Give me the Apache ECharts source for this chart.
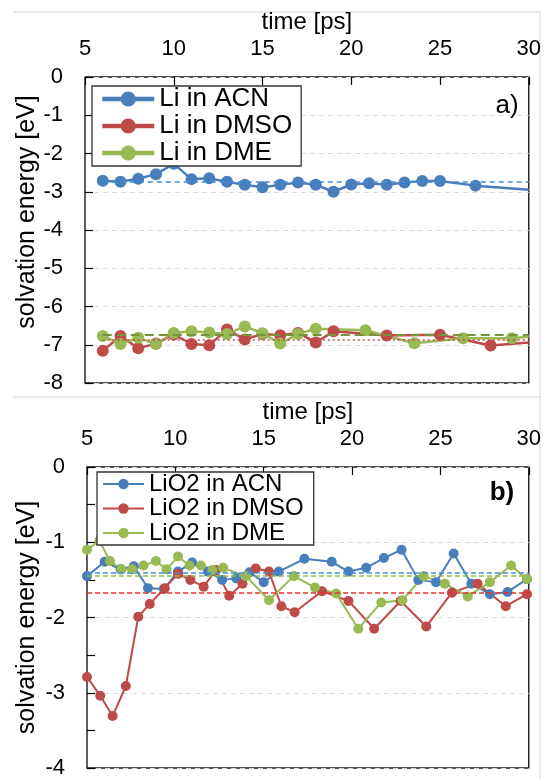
<!DOCTYPE html>
<html>
<head>
<meta charset="utf-8">
<script src="https://cdn.jsdelivr.net/npm/echarts@6/dist/echarts.min.js"></script>
<style>
  html, body { margin: 0; padding: 0; background: #fff; }
  #chart { width: 544px; height: 779px; }
</style>
</head>
<body>
<div id="chart"></div>
<script>
// panel a: Li+ solvation energy vs time
const liAcnT = [6, 7, 8, 9, 10, 11, 12, 13, 14, 15, 16, 17, 18, 19, 20, 21, 22, 23, 24, 25, 27, 30]
const liAcnE = [-2.71, -2.74, -2.66, -2.54, -2.27, -2.67, -2.65, -2.74, -2.82, -2.88, -2.82, -2.76, -2.82, -3.00, -2.81, -2.78, -2.82, -2.76, -2.72, -2.72, -2.84, -2.95]
const liDmsoT = [6, 7, 8, 9, 10, 11, 12, 13, 14, 15, 16, 17, 18, 19, 22, 25, 27.85, 30]
const liDmsoE = [-7.16, -6.77, -7.09, -6.97, -6.73, -6.98, -7.01, -6.60, -6.86, -6.72, -6.75, -6.69, -6.94, -6.65, -6.76, -6.74, -7.02, -6.94]
const liDmeT = [6, 7, 8, 9, 10, 11, 12, 13, 14, 15, 16, 17, 18, 20.8, 23.55, 26.3, 29.05, 30]
const liDmeE = [-6.77, -6.98, -6.82, -6.98, -6.69, -6.65, -6.68, -6.72, -6.52, -6.70, -6.97, -6.72, -6.58, -6.62, -6.96, -6.83, -6.83, -6.79]
const liAvg = [-2.745, -6.86, -6.75] // ACN, DMSO, DME

// panel b: LiO2 solvation energy vs time
const lio2AcnT = [5, 6.0, 6.9, 7.65, 8.45, 9.35, 10.15, 10.95, 11.85, 12.65, 13.45, 14.2, 15.0, 15.85, 17.3, 18.85, 19.8, 20.8, 21.8, 22.8, 23.75, 24.75, 25.75, 26.75, 27.8, 28.8, 29.9]
const lio2AcnE = [-1.45, -1.26, -1.36, -1.32, -1.61, -1.62, -1.39, -1.27, -1.39, -1.50, -1.48, -1.40, -1.53, -1.39, -1.22, -1.26, -1.39, -1.34, -1.21, -1.10, -1.50, -1.53, -1.15, -1.55, -1.69, -1.66, -1.49]
const lio2DmsoT = [5, 5.75, 6.45, 7.2, 7.9, 8.55, 9.4, 10.15, 10.85, 11.6, 12.3, 13.05, 13.8, 14.55, 15.3, 16.0, 16.75, 18.3, 19.8, 21.25, 22.75, 24.2, 25.65, 27.1, 28.7, 29.9]
const lio2DmsoE = [-2.79, -3.04, -3.31, -2.91, -1.99, -1.82, -1.61, -1.42, -1.50, -1.59, -1.37, -1.71, -1.55, -1.35, -1.39, -1.85, -1.93, -1.65, -1.78, -2.15, -1.78, -2.12, -1.67, -1.55, -1.85, -1.69]
const lio2DmeT = [5, 5.7, 6.3, 6.95, 7.55, 8.2, 8.9, 9.5, 10.15, 10.8, 11.45, 12.1, 12.7, 14.0, 15.3, 16.7, 17.9, 19.1, 20.35, 21.65, 22.85, 24.05, 25.25, 26.55, 27.8, 29.0, 29.9]
const lio2DmeE = [-1.10, -0.98, -1.25, -1.36, -1.36, -1.31, -1.25, -1.36, -1.19, -1.31, -1.31, -1.37, -1.34, -1.45, -1.77, -1.45, -1.60, -1.68, -2.15, -1.80, -1.77, -1.45, -1.55, -1.72, -1.53, -1.31, -1.49]
const lio2Avg = [-1.41, -1.67, -1.45]

const namesA = ["Li in ACN", "Li in DMSO", "Li in DME"]
const namesB = ["LiO2 in ACN", "LiO2 in DMSO", "LiO2 in DME"]
const xTicks = [5, 30, 5] // min, max, interval
const yRangeA = [-8, 0]
const yRangeB = [-4, 0]

const BLUE = "#4a7ebb"
const RED = "#be4b48"
const GREEN = "#98b954"
const FONT = "Liberation Sans, Arial, sans-serif"

// points that sit on the right border are drawn without a marker
const pts = (ts, es, hideEnd) =>
  ts.map((t, i) => (hideEnd && t >= 30 ? { value: [t, es[i]], symbol: "none" } : [t, es[i]]))

const avgLine = (y, x0, color, type, width) => ({
  silent: true,
  symbol: "none",
  label: { show: false },
  lineStyle: { color: color, type: type, width: width },
  data: [[{ coord: [x0, y] }, { coord: [30, y] }]],
})

const chart = echarts.init(document.getElementById("chart"))

const xAxisBase = (gridIndex) => ({
  gridIndex: gridIndex,
  type: "value",
  position: "top",
  min: xTicks[0],
  max: xTicks[1],
  interval: xTicks[2],
  name: "time [ps]",
  nameLocation: "middle",
  nameGap: 43,
  nameMoveOverlap: false,
  nameTextStyle: { fontSize: 24, color: "#000", fontFamily: FONT },
  axisLine: { show: false },
  axisTick: { show: true, inside: true, length: 8, lineStyle: { color: "#000", width: 1.2 } },
  axisLabel: { fontSize: 22, color: "#000", fontFamily: FONT, margin: 17 },
  splitLine: { show: false },
})

const yAxisBase = (gridIndex, range, shift, gap) => ({
  gridIndex: gridIndex,
  type: "value",
  min: range[0],
  max: range[1],
  interval: 1,
  name: "solvation energy [eV]",
  nameLocation: "middle",
  nameRotate: 90,
  nameGap: gap,
  nameMoveOverlap: false,
  nameTextStyle: { fontSize: 25, color: "#000", fontFamily: FONT, padding: [0, 0, 0, shift] },
  axisLine: { show: false },
  axisTick: { show: true, inside: true, length: 8, lineStyle: { color: "#000", width: 1.2 } },
  axisLabel: { fontSize: 22, color: "#000", fontFamily: FONT, margin: 22 },
  splitLine: { show: true, lineStyle: { color: "#dcdcdc", type: [5, 4], width: 1 } },
})

const option = {
  animation: false,
  backgroundColor: "#fff",
  grid: [
    { left: 85, top: 77, width: 444, height: 306, show: true, borderColor: "#1a1a1a", borderWidth: 1.4, backgroundColor: "transparent" },
    { left: 87, top: 467, width: 444, height: 305, show: true, borderColor: "#1a1a1a", borderWidth: 1.4, backgroundColor: "transparent" },
  ],
  xAxis: [xAxisBase(0), xAxisBase(1)],
  yAxis: [
    yAxisBase(0, yRangeA, 36, 45),
    Object.assign(yAxisBase(1, yRangeB, 0, 47), {
      minorTick: { show: true, splitNumber: 2, length: 8, lineStyle: { color: "#000", width: 1.2 } },
    }),
  ],
  legend: [
    {
      data: namesA,
      orient: "vertical",
      left: 92,
      top: 86,
      padding: [0, 9, 0, 8],
      itemGap: 1,
      itemWidth: 52,
      itemHeight: 19,
      backgroundColor: "#fff",
      borderColor: "#333",
      borderWidth: 1.3,
      borderRadius: 0,
      lineStyle: { width: 4.5 },
      textStyle: { fontSize: 26, color: "#000", fontFamily: FONT },
    },
    {
      data: namesB,
      orient: "vertical",
      left: 97,
      top: 472,
      padding: [0, 10, 0, 5],
      itemGap: 0.5,
      itemWidth: 41,
      itemHeight: 13,
      backgroundColor: "#fff",
      borderColor: "#333",
      borderWidth: 1.3,
      borderRadius: 0,
      lineStyle: { width: 2 },
      textStyle: { fontSize: 24, color: "#000", fontFamily: FONT },
    },
  ],
  graphic: [
    { type: "line", shape: { x1: 13, y1: 12, x2: 540, y2: 12 }, style: { stroke: "#d4d4d4", lineWidth: 1 }, silent: true },
    { type: "line", shape: { x1: 540, y1: 12, x2: 540, y2: 779 }, style: { stroke: "#d4d4d4", lineWidth: 1 }, silent: true },
    { type: "line", shape: { x1: 13, y1: 397, x2: 540, y2: 397 }, style: { stroke: "#d4d4d4", lineWidth: 1 }, silent: true },
    { type: "text", x: 507, y: 106, style: { text: "a)", fontSize: 26, fill: "#000", fontFamily: FONT, textAlign: "center", textVerticalAlign: "middle" }, z: 10 },
    { type: "text", x: 502, y: 493, style: { text: "b)", fontSize: 26, fontWeight: "bold", fill: "#000", fontFamily: FONT, textAlign: "center", textVerticalAlign: "middle" }, z: 10 },
  ],
  series: [
    {
      name: namesA[0], type: "line", xAxisIndex: 0, yAxisIndex: 0,
      data: pts(liAcnT, liAcnE, true),
      symbol: "circle", symbolSize: 12, showAllSymbol: true,
      itemStyle: { color: BLUE }, lineStyle: { color: BLUE, width: 2.5 },
      markLine: avgLine(liAvg[0], 6, "#3a8fdc", [5, 4], 1.5),
    },
    {
      name: namesA[1], type: "line", xAxisIndex: 0, yAxisIndex: 0,
      data: pts(liDmsoT, liDmsoE, true),
      symbol: "circle", symbolSize: 12, showAllSymbol: true,
      itemStyle: { color: RED }, lineStyle: { color: RED, width: 2.5 },
      markLine: avgLine(liAvg[1], 6, "#c0504d", [2, 3], 1.5),
    },
    {
      name: namesA[2], type: "line", xAxisIndex: 0, yAxisIndex: 0,
      data: pts(liDmeT, liDmeE, true),
      symbol: "circle", symbolSize: 12, showAllSymbol: true,
      itemStyle: { color: GREEN }, lineStyle: { color: GREEN, width: 2.5 },
      markLine: avgLine(liAvg[2], 6, "#77933c", [9, 5], 2),
    },
    {
      name: namesB[0], type: "line", xAxisIndex: 1, yAxisIndex: 1,
      data: pts(lio2AcnT, lio2AcnE, false),
      symbol: "circle", symbolSize: 10, showAllSymbol: true,
      itemStyle: { color: BLUE }, lineStyle: { color: BLUE, width: 2 },
      markLine: avgLine(lio2Avg[0], 5, "#4a8fdc", [5, 3], 1.5),
    },
    {
      name: namesB[1], type: "line", xAxisIndex: 1, yAxisIndex: 1,
      data: pts(lio2DmsoT, lio2DmsoE, false),
      symbol: "circle", symbolSize: 10, showAllSymbol: true,
      itemStyle: { color: RED }, lineStyle: { color: RED, width: 2 },
      markLine: avgLine(lio2Avg[1], 5, "#e8312c", [5, 3], 1.5),
    },
    {
      name: namesB[2], type: "line", xAxisIndex: 1, yAxisIndex: 1,
      data: pts(lio2DmeT, lio2DmeE, false),
      symbol: "circle", symbolSize: 10, showAllSymbol: true,
      itemStyle: { color: GREEN }, lineStyle: { color: GREEN, width: 2 },
      markLine: avgLine(lio2Avg[2], 5, "#8cbf4a", [5, 3], 1.5),
    },
  ],
}

chart.setOption(option)
</script>
</body>
</html>
